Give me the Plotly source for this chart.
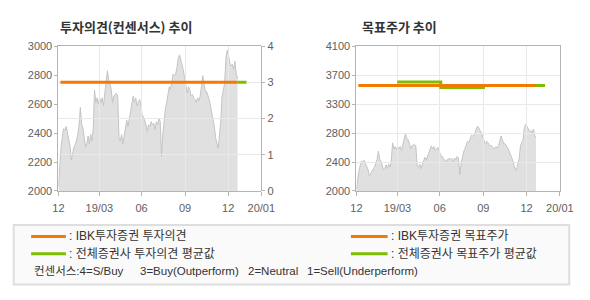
import plotly.graph_objects as go

W, H = 590, 300

# ---- data ----
price = [2030, 2190, 2300, 2370, 2430, 2420, 2445, 2400, 2350, 2310,
         2215, 2259, 2300, 2320, 2346, 2390, 2456, 2577, 2460, 2434,
         2357, 2303, 2325, 2380, 2325, 2390, 2346, 2434, 2697, 2610,
         2643, 2600, 2643, 2610, 2643, 2588, 2675, 2741, 2829, 2763,
         2741, 2697, 2610, 2654, 2665, 2675, 2654, 2368, 2346, 2390,
         2325, 2390, 2434, 2489, 2445, 2500, 2566, 2621, 2654, 2610,
         2643, 2588, 2610, 2632, 2588, 2522, 2511, 2489, 2456, 2412,
         2456, 2445, 2478, 2456, 2467, 2423, 2478, 2456, 2500, 2478,
         2237, 2390, 2500, 2566, 2610, 2675, 2719, 2700, 2763, 2807,
         2796, 2807, 2851, 2917, 2939, 2906, 2873, 2829, 2774, 2730,
         2675, 2719, 2697, 2654, 2665, 2643, 2632, 2610, 2643, 2621,
         2654, 2719, 2796, 2741, 2686, 2686, 2664, 2632, 2588, 2544,
         2511, 2445, 2368, 2325, 2292, 2390, 2478, 2654, 2697, 2741,
         2917, 2971, 2939, 2884, 2862, 2873, 2840, 2895, 2807, 2774]
idx = list(range(len(price)))

tick_pos = [0, 31.75, 64.5, 98.25, 131.75, 157.5]
tick_text = ["12", "19/03", "06", "09", "12", "20/01"]
x_end = 157.5

ibk_op_x = [1.5, 139]
ibk_op_y = [3, 3]
cons_op_x = [139, 146]
cons_op_y = [3, 3]

ibk_tp_x = [1.5, 139]
ibk_tp_y = [3530, 3530]
cons_tp_x1 = [31.6, 65.3, 99.5]
cons_tp_y1 = [3580, 3500, 3500]
cons_tp_x2 = [139, 146]
cons_tp_y2 = [3530, 3530]

left_yticks = [2000, 2200, 2400, 2600, 2800, 3000]
op_ticks = [0, 1, 2, 3, 4]
tp_tickvals = [2000, 2420, 2840, 3260, 3680, 4100]
tp_ticktext = ["2000", "2400", "2800", "3300", "3700", "4100"]

legend_labels = [": IBK투자증권 투자의견", ": 전체증권사 투자의견 평균값",
                 ": IBK투자증권 목표주가", ": 전체증권사 목표주가 평균값"]
consensus_parts = ["컨센서스:4=S/Buy", "3=Buy(Outperform)", "2=Neutral", "1=Sell(Underperform)"]

ORANGE = "#f27a00"
GREEN = "#7fbd00"
AREA = "#e0e0e0"
AREA_LINE = "#c4c4c4"
GRID = "#e9e9e9"
AXIS = "#b4b4b4"
TXT = "#606060"
FONT = "Liberation Sans, Noto Sans CJK KR, sans-serif"
KFONT = "Noto Sans CJK KR, sans-serif"


def px(x):
    return x / W


def py(y):
    return 1 - y / H


fig = go.Figure()

# left chart: price area (subplot x/y)
fig.add_trace(go.Scatter(x=idx, y=price, xaxis="x", yaxis="y", mode="lines",
                         fill="tozeroy", fillcolor=AREA,
                         line=dict(color=AREA_LINE, width=1), hoverinfo="skip"))
# right chart: price area (subplot x2/y3)
fig.add_trace(go.Scatter(x=idx, y=price, xaxis="x2", yaxis="y3", mode="lines",
                         fill="tozeroy", fillcolor=AREA,
                         line=dict(color=AREA_LINE, width=1), hoverinfo="skip"))
# left chart lines (subplot x3/y4, drawn above the area with its own grid)
fig.add_trace(go.Scatter(x=cons_op_x, y=cons_op_y, xaxis="x3", yaxis="y4", mode="lines",
                         line=dict(color=GREEN, width=3)))
fig.add_trace(go.Scatter(x=ibk_op_x, y=ibk_op_y, xaxis="x3", yaxis="y4", mode="lines",
                         line=dict(color=ORANGE, width=3)))
# right chart lines (subplot x4/y5)
fig.add_trace(go.Scatter(x=cons_tp_x1, y=cons_tp_y1, xaxis="x4", yaxis="y5", mode="lines",
                         line=dict(color=GREEN, width=3, shape="hv")))
fig.add_trace(go.Scatter(x=cons_tp_x2, y=cons_tp_y2, xaxis="x4", yaxis="y5", mode="lines",
                         line=dict(color=GREEN, width=3)))
fig.add_trace(go.Scatter(x=ibk_tp_x, y=ibk_tp_y, xaxis="x4", yaxis="y5", mode="lines",
                         line=dict(color=ORANGE, width=3)))

top, bottom = 41.7, 192.7
ydom = [py(bottom), py(top)]
ldom = [px(54.3), px(264.3)]
rdom = [px(362.7), px(573.3)]
tickfont = dict(family=FONT, size=11, color=TXT)

common_x = dict(range=[0, x_end], tickvals=tick_pos, ticktext=tick_text,
                showgrid=False, showline=True, linecolor=AXIS, linewidth=1,
                mirror=True, ticks="outside", ticklen=4, tickcolor=AXIS,
                tickfont=tickfont, ticklabelstandoff=3, zeroline=False)

grid_x = dict(range=[0, x_end], tickvals=tick_pos[1:-1], showticklabels=False,
              showgrid=True, gridcolor=GRID, gridwidth=1, showline=False,
              ticks="", zeroline=False)

shapes = []
annotations = []

# legend box
shapes.append(dict(type="rect", xref="paper", yref="paper",
                   x0=px(8), x1=px(583), y0=py(290), y1=py(228),
                   fillcolor="#fafafa", line=dict(color="#dedede", width=2), layer="below"))
legend_rows = [
    (26, 62, 240, ORANGE, legend_labels[0]),
    (26, 62, 258, GREEN, legend_labels[1]),
    (357, 395, 240, ORANGE, legend_labels[2]),
    (357, 395, 258, GREEN, legend_labels[3]),
]
for x0, x1, y, col, label in legend_rows:
    shapes.append(dict(type="line", xref="paper", yref="paper",
                       x0=px(x0), x1=px(x1), y0=py(y), y1=py(y),
                       line=dict(color=col, width=3)))
    annotations.append(dict(x=px(x1 + 1), y=py(y), xref="paper", yref="paper",
                            text=label, showarrow=False, xanchor="left", yanchor="middle",
                            font=dict(family=FONT, size=12, color="#333333")))
for xpos, part in zip([27, 137, 248, 310], consensus_parts):
    annotations.append(dict(x=px(xpos), y=py(276), xref="paper", yref="paper",
                            text=part, showarrow=False, xanchor="left", yanchor="middle",
                            font=dict(family=FONT, size=11.5, color="#333333")))
# titles
annotations.append(dict(x=px(54), y=py(21), xref="paper", yref="paper",
                        text="<b>투자의견(컨센서스) 추이</b>", showarrow=False,
                        xanchor="left", yanchor="middle",
                        font=dict(family=KFONT, size=13, color="#333333")))
annotations.append(dict(x=px(366), y=py(21), xref="paper", yref="paper",
                        text="<b>목표주가 추이</b>", showarrow=False,
                        xanchor="left", yanchor="middle",
                        font=dict(family=KFONT, size=13, color="#333333")))

fig.update_layout(
    width=W, height=H, margin=dict(l=0, r=0, t=0, b=0),
    paper_bgcolor="white", plot_bgcolor="rgba(0,0,0,0)", showlegend=False,
    xaxis=dict(domain=ldom, anchor="y", **common_x),
    yaxis=dict(domain=ydom, anchor="x", range=[2000, 3000], tickvals=left_yticks,
               showgrid=False, showline=True, linecolor=AXIS, ticks="outside",
               ticklen=3, tickcolor=AXIS, tickfont=tickfont, zeroline=False),
    xaxis2=dict(domain=rdom, anchor="y3", **common_x),
    yaxis3=dict(domain=ydom, anchor="x2", range=[2000, 4100], tickvals=tp_tickvals,
                ticktext=tp_ticktext, showgrid=False, showline=True, linecolor=AXIS,
                mirror=True, ticks="outside", ticklen=3, tickcolor=AXIS,
                tickfont=tickfont, zeroline=False),
    xaxis3=dict(domain=ldom, anchor="y4", **grid_x),
    yaxis4=dict(domain=ydom, anchor="x3", side="right", range=[0, 4], tickvals=op_ticks,
                showgrid=True, gridcolor=GRID, gridwidth=1, showline=True,
                linecolor=AXIS, ticks="outside", ticklen=3, tickcolor=AXIS,
                tickfont=tickfont, zeroline=False),
    xaxis4=dict(domain=rdom, anchor="y5", **grid_x),
    yaxis5=dict(domain=ydom, anchor="x4", range=[2000, 4100], tickvals=tp_tickvals[1:-1],
                showticklabels=False, showgrid=True, gridcolor=GRID, gridwidth=1,
                showline=False, ticks="", zeroline=False),
    shapes=shapes, annotations=annotations,
)

fig.write_html("out.html")
